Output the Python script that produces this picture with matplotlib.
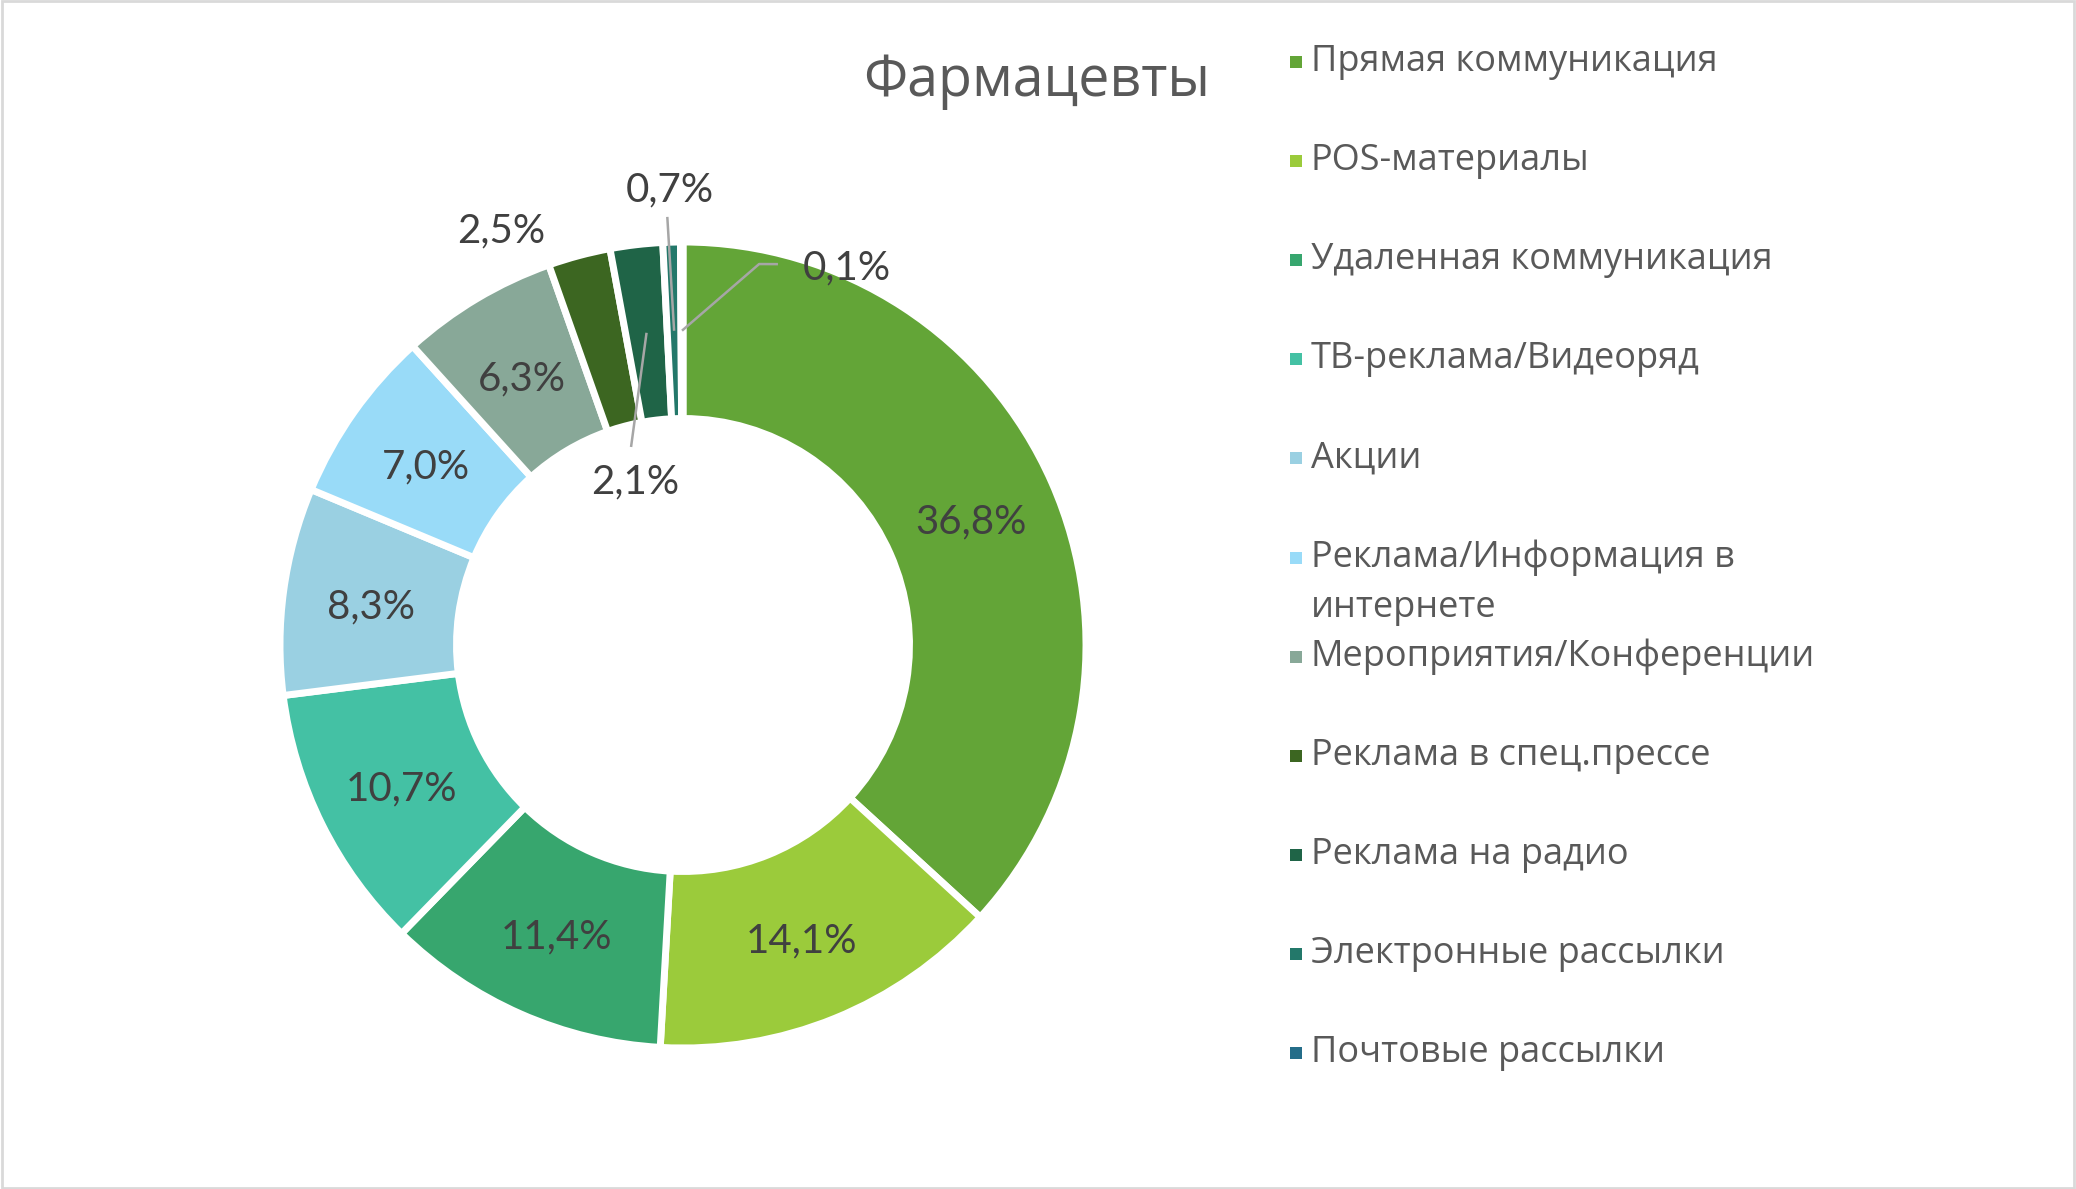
import numpy as np
import matplotlib.pyplot as plt
from matplotlib.patches import Rectangle

# data
categories = ["Прямая коммуникация", "POS-материалы", "Удаленная коммуникация",
              "ТВ-реклама/Видеоряд", "Акции", "Реклама/Информация в\nинтернете",
              "Мероприятия/Конференции", "Реклама в спец.прессе", "Реклама на радио",
              "Электронные рассылки", "Почтовые рассылки"]
shares = [36.8, 14.1, 11.4, 10.7, 8.3, 7.0, 6.3, 2.5, 2.1, 0.7, 0.1]
colors = ["#63A537", "#9BCB3B", "#37A66E", "#44C1A4", "#9AD0E2", "#99DBF8",
          "#88A898", "#3C6621", "#1F6447", "#23786A", "#246D89"]
title = "Фармацевты"

W, H = 2076, 1189
fig = plt.figure(figsize=(W / 100, H / 100), dpi=100)

# donut
cx, cy, R = 683, 645, 403
ax = fig.add_axes([(cx - R) / W, (H - cy - R) / H, 2 * R / W, 2 * R / H])
wedges, _ = ax.pie(shares, colors=colors, startangle=90, counterclock=False,
                   radius=1, wedgeprops=dict(width=0.438, edgecolor="white", linewidth=5))
ax.set_xlim(-1, 1)
ax.set_ylim(-1, 1)
ax.axis("off")

def polar(ang, r):
    a = np.deg2rad(ang)
    return r * np.cos(a), r * np.sin(a)

# label placement: index -> (angle or None for mid, radius)
label_place = {7: (113.5, 1.13), 8: (106.0, 0.43), 9: (None, 1.14), 10: (66.7, 1.03)}
# leader lines: index -> list of points (angle, r); last point is on the slice
leaders = {8: [(104.7, 0.508)], 9: [(92.1, 1.063)], 10: [(76.0, 0.974), (78.7, 0.964)]}

lab_font = dict(family=["Lato", "DejaVu Sans"], fontsize=29, color="#404040")
for i, w in enumerate(wedges):
    mid = (w.theta1 + w.theta2) / 2
    ang, r = label_place.get(i, (None, 0.781))
    if ang is None:
        ang = mid
    x, y = polar(ang, r)
    txt = ("%.1f%%" % shares[i]).replace(".", ",")
    ax.text(x, y - 0.01, txt, ha="center", va="center", **lab_font)
    if i in leaders:
        pts = [polar(a, rr) for a, rr in leaders[i]] + [polar(mid, 0.78)]
        pts = np.array(pts)
        ax.plot(pts[:, 0], pts[:, 1], color="#A6A6A6", lw=1.8, solid_capstyle="butt", clip_on=False)

# title
fig.text(1037 / W, 1 - 82 / H, title, ha="center", va="center",
         family=["Open Sans", "DejaVu Sans"], fontsize=40, color="#595959")

# legend
leg_x, leg_y0, leg_step, line_step, msz = 1290, 62, 99.1, 50, 12
for i, (lab, col) in enumerate(zip(categories, colors)):
    yc = leg_y0 + i * leg_step
    fig.add_artist(Rectangle(((leg_x) / W, 1 - (yc + msz / 2) / H), msz / W, msz / H,
                             transform=fig.transFigure, facecolor=col, edgecolor="none"))
    for k, line in enumerate(lab.split("\n")):
        fig.text((leg_x + 21) / W, 1 - (yc + k * line_step) / H, line, ha="left", va="center",
                 family=["Open Sans", "DejaVu Sans"], fontsize=26, color="#595959")

# frame
fig.add_artist(Rectangle((0.001, 0.001), 0.998, 0.998, transform=fig.transFigure,
                         facecolor="none", edgecolor="#D9D9D9", lw=2))

fig.savefig("out.png", dpi=100)
